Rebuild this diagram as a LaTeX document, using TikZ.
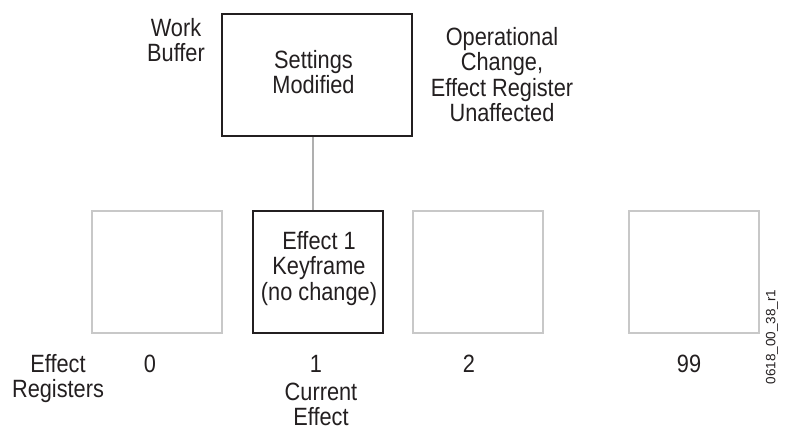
\documentclass[tikz,border=0pt]{standalone}
\usepackage{fontspec}
\setmainfont{Liberation Sans}[FakeStretch=0.87]
\newfontfamily\idfont{Liberation Sans}
\definecolor{ink}{RGB}{35,31,32}
\definecolor{lightbox}{RGB}{200,200,200}
\definecolor{wire}{RGB}{175,175,175}
\tikzset{
  txt/.style={font=\fontsize{25}{25.6}\selectfont, align=center, inner sep=0pt, text=ink, anchor=base},
  darkbox/.style={draw=ink, line width=2pt, inner sep=0pt, fill=white},
  lightreg/.style={draw=lightbox, line width=2pt, inner sep=0pt, fill=white, minimum width=130pt, minimum height=122pt},
}
\begin{document}
\begin{tikzpicture}[x=1pt, y=-1pt]
\useasboundingbox (0,0) rectangle (785,428);
% work buffer box
\node[darkbox, minimum width=190pt, minimum height=122pt] (wbuf) at (317,75) {};
% register boxes
\node[lightreg] (reg0) at (157,272) {};
\node[darkbox, minimum width=130pt, minimum height=122pt] (reg1) at (317.5,272) {};
\node[lightreg] (reg2) at (478,272) {};
\node[lightreg] (reg99) at (694,272) {};
% connector
\draw[wire, line width=1.5pt] ([xshift=-4pt]wbuf.south) -- ([xshift=-4.5pt]reg1.north);
% texts (anchor = baseline of the last line)
\node[txt] (wbtitle) at (176,61.6) {Work\\Buffer};
\node[txt] (optext) at (502,121.8) {Operational\\Change,\\Effect Register\\Unaffected};
\node[txt] (settext) at (313.5,93.6) {Settings\\Modified};
\node[txt] (keytext) at (319,300.2) {Effect 1\\Keyframe\\(no change)};
\node[txt] (num0) at (150,372) {0};
\node[txt] (num1) at (316,372) {1};
\node[txt] (num2) at (469,372) {2};
\node[txt] (num99) at (689,372) {99};
\node[txt] (regtitle) at (58,397.6) {Effect\\Registers};
\node[txt] (curtext) at (321,425.6) {Current\\Effect};
\node[font=\idfont\fontsize{13.5}{14}\selectfont, text=ink, inner sep=0pt, rotate=90] (figid) at (772,337) {0618\_00\_38\_r1};
\end{tikzpicture}
\end{document}
